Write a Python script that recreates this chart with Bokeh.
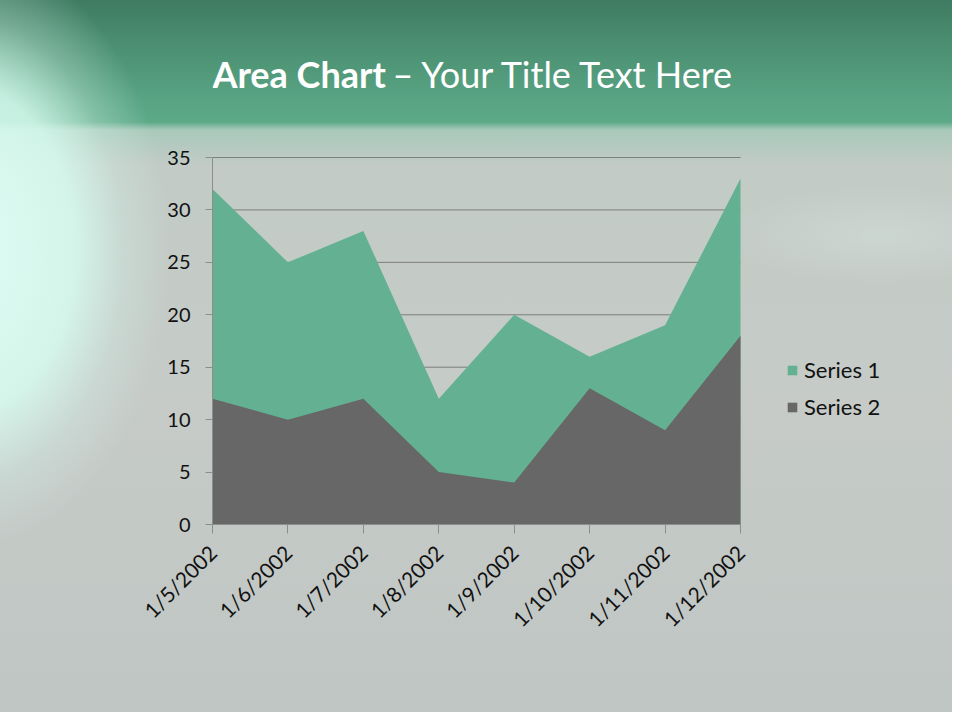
from bokeh.plotting import figure
from bokeh.models import Range1d, FixedTicker, Legend, LegendItem, Label
from bokeh.embed import file_html
from bokeh.resources import INLINE
import math

categories = ["1/5/2002", "1/6/2002", "1/7/2002", "1/8/2002",
              "1/9/2002", "1/10/2002", "1/11/2002", "1/12/2002"]
series1 = [32, 25, 28, 12, 20, 16, 19, 33]
series2 = [12, 10, 12, 5, 4, 13, 9, 18]
y_ticks = [0, 5, 10, 15, 20, 25, 30, 35]

FONT = "Lato"
GREEN = "#63b192"
GREY = "#676767"

W, H = 952, 712
LEFT, BOTTOM = 212, 524          # pixel position of the chart's origin
CHART_W, CHART_H = 528, 367      # pixel size of the chart area

xs = list(range(len(categories)))
x_max = len(categories) - 1
y_max = y_ticks[-1]

bg = ("radial-gradient(ellipse 210px 300px at -40px 250px, rgba(224,255,247,0.97) 0%, rgba(215,251,239,0.85) 55%, rgba(210,240,230,0.35) 78%, rgba(210,240,230,0) 100%),"
      "radial-gradient(ellipse 160px 50px at 880px 235px, rgba(225,240,235,0.3) 0%, rgba(225,240,235,0) 100%),"
      "linear-gradient(to bottom, #3f7b62 0px, #4a8d70 40px, #58a483 100px, #5ca987 122px, #a9c9bb 130px, #c2cbc6 165px, #c6cbc8 400px, #c0c6c3 712px)")

# frame spans from the chart origin to the top/right edges, so the title and legend
# can live inside it; the data ranges are scaled so that the chart area is 528x367 px
p = figure(width=W, height=H, output_backend="svg", toolbar_location=None,
           x_range=Range1d(0, x_max * (W - LEFT) / CHART_W),
           y_range=Range1d(0, y_max * BOTTOM / CHART_H),
           min_border_left=LEFT, min_border_right=0, min_border_top=0,
           min_border_bottom=H - BOTTOM,
           styles={"background": bg})
p.border_fill_alpha = 0
p.background_fill_alpha = 0
p.outline_line_color = None
p.xgrid.grid_line_color = None
p.ygrid.grid_line_color = None

# horizontal gridlines limited to the chart area
grid_y = y_ticks[1:]
p.segment(x0=[0] * len(grid_y), x1=[x_max] * len(grid_y), y0=grid_y, y1=grid_y,
          line_color="#7c7f7d", line_width=1)

r1 = p.varea(x=xs, y1=[0] * len(xs), y2=series1, fill_color=GREEN)
r2 = p.varea(x=xs, y1=[0] * len(xs), y2=series2, fill_color=GREY)

# axes
p.xaxis.ticker = FixedTicker(ticks=xs)
p.xaxis.major_label_overrides = {i: c for i, c in enumerate(categories)}
p.xaxis.major_label_orientation = math.pi / 4
p.xaxis.bounds = (0, x_max)
p.yaxis.ticker = FixedTicker(ticks=y_ticks)
p.yaxis.bounds = (0, y_max)
for ax in (p.xaxis, p.yaxis):
    ax.axis_line_color = "#8a8f8c"
    ax.major_tick_line_color = "#8a8f8c"
    ax.minor_tick_line_color = None
    ax.major_label_text_font = FONT
    ax.major_label_text_color = "#111111"
    ax.major_tick_in = 0
p.xaxis.major_label_text_font_size = "21px"
p.yaxis.major_label_text_font_size = "20px"
p.xaxis.major_tick_out = 9
p.yaxis.major_tick_out = 7
p.xaxis.major_label_standoff = 15
p.yaxis.major_label_standoff = 15

legend = Legend(items=[LegendItem(label="Series 1", renderers=[r1]),
                       LegendItem(label="Series 2", renderers=[r2])],
                location=(574, 104), background_fill_alpha=0, border_line_color=None,
                padding=0, margin=0, glyph_width=12, glyph_height=12, label_standoff=6,
                spacing=10, label_height=22,
                label_text_font=FONT, label_text_font_size="22px", label_text_color="#111111")
p.add_layout(legend)

# title (two parts: bold + normal), screen units relative to the frame
t1 = Label(x=0, y=BOTTOM - 73, x_units="screen", y_units="screen", text="Area Chart",
           text_font=FONT, text_font_style="bold", text_font_size="36px", text_color="white",
           text_baseline="alphabetic", text_align="left")
t2 = Label(x=180, y=BOTTOM - 73, x_units="screen", y_units="screen",
           text="\u2013 Your Title Text Here",
           text_font=FONT, text_font_size="36px", text_color="white",
           text_baseline="alphabetic", text_align="left")
p.add_layout(t1)
p.add_layout(t2)

open("out.html", "w").write(file_html(p, INLINE))
